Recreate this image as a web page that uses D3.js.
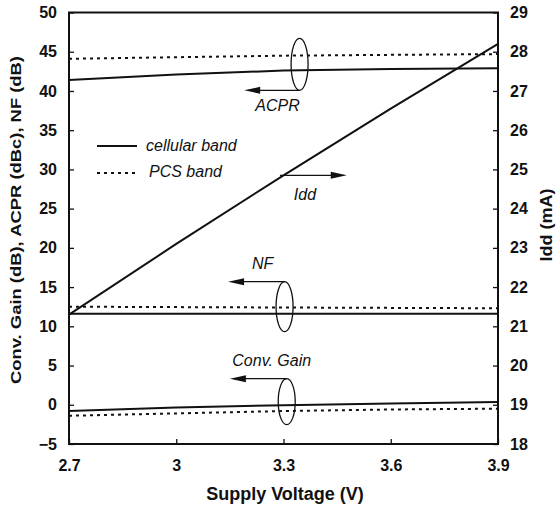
<!DOCTYPE html>
<html>
<head>
<meta charset="utf-8">
<script src="https://cdn.jsdelivr.net/npm/d3@7"></script>
<style>
  body { margin: 0; background: #fff; }
  svg { display: block; }
  text { font-family: "Liberation Sans", Arial, sans-serif; fill: #111; }
</style>
</head>
<body>
<div id="chart"></div>
<script>
// supply voltage sweep (V)
const voltage   = [2.7, 3.0, 3.3, 3.6, 3.9];
// left axis series
const acprCell  = [41.4, 42.1, 42.6, 42.8, 42.9];
const acprPcs   = [44.1, 44.3, 44.5, 44.6, 44.7];
const nfCell    = [11.6, 11.6, 11.6, 11.6, 11.6];
const nfPcs     = [12.5, 12.45, 12.4, 12.35, 12.3];
const gainCell  = [-0.8, -0.35, -0.05, 0.15, 0.35];
const gainPcs   = [-1.4, -1.1, -0.8, -0.6, -0.5];
// right axis series (mA)
const idd       = [21.3, 23.1, 24.85, 26.55, 28.2];

const xTicks     = [2.7, 3.0, 3.3, 3.6, 3.9];
const xTickText  = ['2.7', '3', '3.3', '3.6', '3.9'];
const yLeftTicks  = [-5, 0, 5, 10, 15, 20, 25, 30, 35, 40, 45, 50];
const yRightTicks = [18, 19, 20, 21, 22, 23, 24, 25, 26, 27, 28, 29];

const W = 557, H = 510;
const m = { top: 12.5, right: 59, bottom: 66, left: 69 };

const svg = d3.select('#chart').append('svg').attr('width', W).attr('height', H);

const x  = d3.scaleLinear().domain([2.7, 3.9]).range([m.left, W - m.right]);
const yL = d3.scaleLinear().domain([-5, 50]).range([H - m.bottom, m.top]);
const yR = d3.scaleLinear().domain([18, 29]).range([H - m.bottom, m.top]);

// axes, ticks pointing inward
const axB = d3.axisBottom(x).tickValues(xTicks).tickSizeInner(-5).tickSizeOuter(0)
  .tickPadding(16).tickFormat((d, i) => xTickText[i]);
const axL = d3.axisLeft(yL).tickValues(yLeftTicks).tickSizeInner(-5).tickSizeOuter(0).tickPadding(12);
const axR = d3.axisRight(yR).tickValues(yRightTicks).tickSizeInner(-5).tickSizeOuter(0).tickPadding(12);

function styleAxis(g) {
  g.select('.domain').remove();
  g.selectAll('.tick line').attr('stroke', '#111').attr('stroke-width', 1.3);
  g.selectAll('.tick text').attr('font-size', 16).attr('font-weight', 'bold')
    .attr('font-family', '"Liberation Sans", Arial, sans-serif').attr('fill', '#111');
}
svg.append('g').attr('transform', `translate(0,${H - m.bottom})`).call(axB).call(styleAxis);
svg.append('g').attr('transform', `translate(${m.left},0)`).call(axL).call(styleAxis);
svg.append('g').attr('transform', `translate(${W - m.right},0)`).call(axR).call(styleAxis);

// frame
svg.append('rect')
  .attr('x', m.left).attr('y', m.top)
  .attr('width', W - m.left - m.right).attr('height', H - m.top - m.bottom)
  .attr('fill', 'none').attr('stroke', '#111').attr('stroke-width', 2);

// series
const lineL = d3.line().x((d, i) => x(voltage[i])).y(d => yL(d));
const lineR = d3.line().x((d, i) => x(voltage[i])).y(d => yR(d));
const solid = { dash: null }, dotted = { dash: '3,4' };

[[acprCell, solid], [acprPcs, dotted], [nfCell, solid], [nfPcs, dotted],
 [gainCell, solid], [gainPcs, dotted]].forEach(([s, st]) => {
  svg.append('path').attr('d', lineL(s)).attr('fill', 'none')
    .attr('stroke', '#111').attr('stroke-width', 2)
    .attr('stroke-dasharray', st.dash);
});
svg.append('path').attr('d', lineR(idd)).attr('fill', 'none')
  .attr('stroke', '#111').attr('stroke-width', 2);

// axis titles (the original face is wider than Liberation, so stretch to its span)
svg.append('text').attr('transform', `translate(21,220) rotate(-90)`)
  .attr('text-anchor', 'middle').attr('font-size', 15.5).attr('font-weight', 'bold')
  .attr('textLength', 328).attr('lengthAdjust', 'spacingAndGlyphs')
  .text('Conv. Gain (dB), ACPR (dBc), NF (dB)');
svg.append('text').attr('transform', `translate(552,225) rotate(-90)`)
  .attr('text-anchor', 'middle').attr('font-size', 16.5).attr('font-weight', 'bold')
  .attr('textLength', 73).attr('lengthAdjust', 'spacingAndGlyphs')
  .text('Idd (mA)');
svg.append('text').attr('x', 285).attr('y', 500)
  .attr('text-anchor', 'middle').attr('font-size', 18).attr('font-weight', 'bold')
  .text('Supply Voltage (V)');

// legend
const lg = svg.append('g');
[['cellular band', null, 146, 146, 5], ['PCS band', '3,4', 173, 149, 4]].forEach(([label, dash, yy, tx, dy]) => {
  lg.append('line').attr('x1', 97).attr('x2', 137).attr('y1', yy).attr('y2', yy)
    .attr('stroke', '#111').attr('stroke-width', 2).attr('stroke-dasharray', dash);
  lg.append('text').attr('x', tx).attr('y', yy + dy)
    .attr('font-size', 16).attr('font-style', 'italic').text(label);
});

// annotations: ellipse grouping the pair of curves + arrow to the axis they belong to
function arrow(x1, y1, x2, y2) {
  const dir = Math.sign(x2 - x1);
  svg.append('line').attr('x1', x1).attr('y1', y1).attr('x2', x2 - dir * 12).attr('y2', y2)
    .attr('stroke', '#111').attr('stroke-width', 1.3);
  svg.append('path')
    .attr('d', `M${x2},${y2} L${x2 - dir * 16},${y2 - 3.5} L${x2 - dir * 16},${y2 + 3.5} Z`)
    .attr('fill', '#111');
}
function ellipse(cx, cy, ry) {
  svg.append('ellipse').attr('cx', cx).attr('cy', cy).attr('rx', 8.5).attr('ry', ry)
    .attr('fill', 'none').attr('stroke', '#111').attr('stroke-width', 1.3);
}
function label(t, xx, yy) {
  svg.append('text').attr('x', xx).attr('y', yy).attr('text-anchor', 'middle')
    .attr('font-size', 16).attr('font-style', 'italic').text(t);
}

// ACPR
const acx = x(3.345);
ellipse(acx, yL(43.4), 26);
arrow(acx, yL(43.4) + 26, x(3.19), yL(43.4) + 26);
label('ACPR', acx - 22, yL(43.4) + 47);

// NF
const ncx = x(3.303);
ellipse(ncx, yL(12.5), 25);
arrow(ncx, yL(12.5) - 25, x(3.145), yL(12.5) - 25);
label('NF', ncx - 22, yL(12.5) - 38);

// Conv. Gain
const gcx = x(3.309);
ellipse(gcx, yL(0.4), 23);
arrow(gcx, yL(0.4) - 23, x(3.15), yL(0.4) - 23);
label('Conv. Gain', gcx - 15, yL(0.4) - 36);

// Idd
arrow(x(3.29), yR(24.85), x(3.477), yR(24.85));
label('Idd', x(3.36), yR(24.85) + 25);
</script>
</body>
</html>
